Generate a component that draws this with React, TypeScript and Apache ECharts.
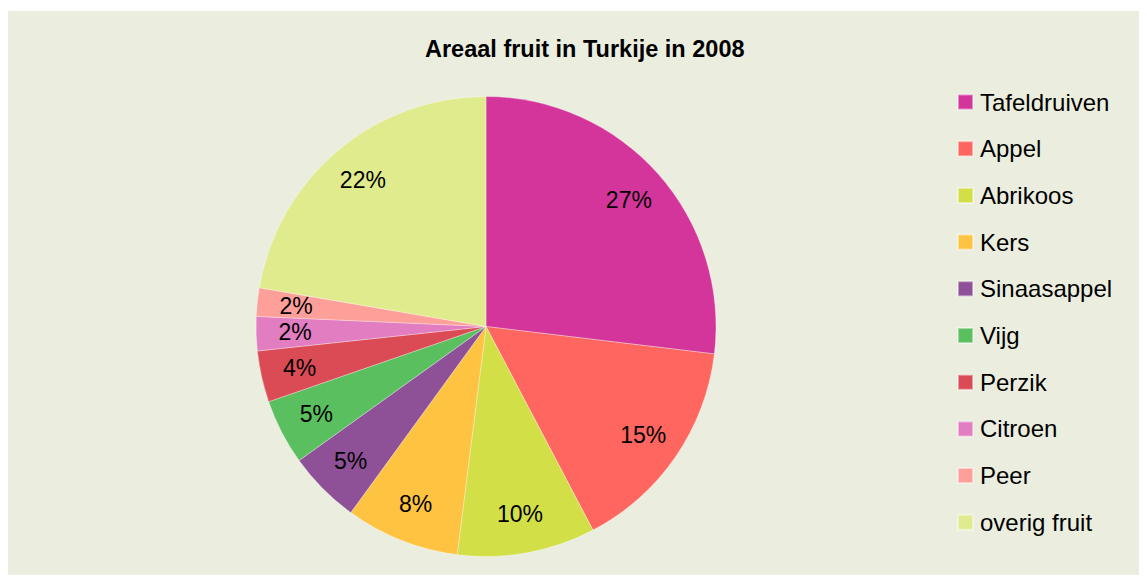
import React, { useEffect, useRef } from "react";
import * as echarts from "echarts";

const TITLE = "Areaal fruit in Turkije in 2008";
const categories = [
  "Tafeldruiven",
  "Appel",
  "Abrikoos",
  "Kers",
  "Sinaasappel",
  "Vijg",
  "Perzik",
  "Citroen",
  "Peer",
  "overig fruit",
];
// share of area (%) per fruit
const shares = [26.9, 15.4, 9.7, 8.0, 5.1, 4.6, 3.6, 2.4, 2.0, 22.3];
const colors = [
  "#D4359B",
  "#FF6660",
  "#D2DF47",
  "#FFC342",
  "#8E5096",
  "#5ABF5E",
  "#DB4B55",
  "#E27DC1",
  "#FF9F9A",
  "#E0EB8D",
];

const FONT = "'Liberation Sans', Arial, sans-serif";

export default function App() {
  const ref = useRef<HTMLDivElement>(null);

  useEffect(() => {
    document.documentElement.style.overflow = "hidden";
    document.body.style.overflow = "hidden";
    if (!ref.current) return;
    const chart = echarts.init(ref.current, null, { renderer: "svg" });
    const pieData = categories.map((name, i) => ({
      name,
      value: shares[i],
      itemStyle: { color: colors[i] },
    }));
    const labelData = categories.map((name, i) => ({
      name,
      value: shares[i],
    }));
    chart.setOption({
      animation: false,
      backgroundColor: "#EBEEDF",
      title: {
        text: TITLE,
        left: 417,
        top: 26,
        padding: 0,
        textStyle: {
          fontFamily: FONT,
          fontWeight: "bold",
          fontSize: 23.5,
          color: "#000",
        },
      },
      legend: {
        orient: "vertical",
        left: 949,
        top: 79,
        padding: 0,
        itemWidth: 15,
        itemHeight: 15,
        itemGap: 22.7,
        icon: "rect",
        data: categories,
        selectedMode: false,
        textStyle: {
          fontFamily: FONT,
          fontSize: 24,
          color: "#000",
          padding: [0, 0, 0, 2],
        },
      },
      series: [
        {
          type: "pie",
          center: [478, 315.5],
          radius: 230,
          startAngle: 90,
          clockwise: true,
          label: { show: false },
          labelLine: { show: false },
          emphasis: { disabled: true },
          itemStyle: {
            borderColor: "rgba(255,255,255,0.45)",
            borderWidth: 0.7,
          },
          data: pieData,
        },
        {
          type: "pie",
          center: [478, 315.5],
          radius: [146, 230],
          startAngle: 90,
          clockwise: true,
          silent: true,
          emphasis: { disabled: true },
          itemStyle: { color: "rgba(0,0,0,0)" },
          labelLine: { show: false },
          label: {
            show: true,
            position: "inside",
            fontFamily: FONT,
            fontSize: 23,
            color: "#000",
            formatter: (p: any) => Math.round(p.value) + "%",
          },
          data: labelData,
        },
      ],
    });
    return () => chart.dispose();
  }, []);

  return (
    <div
      ref={ref}
      style={{ width: 1139, height: 567, position: "relative", top: 3 }}
    />
  );
}
